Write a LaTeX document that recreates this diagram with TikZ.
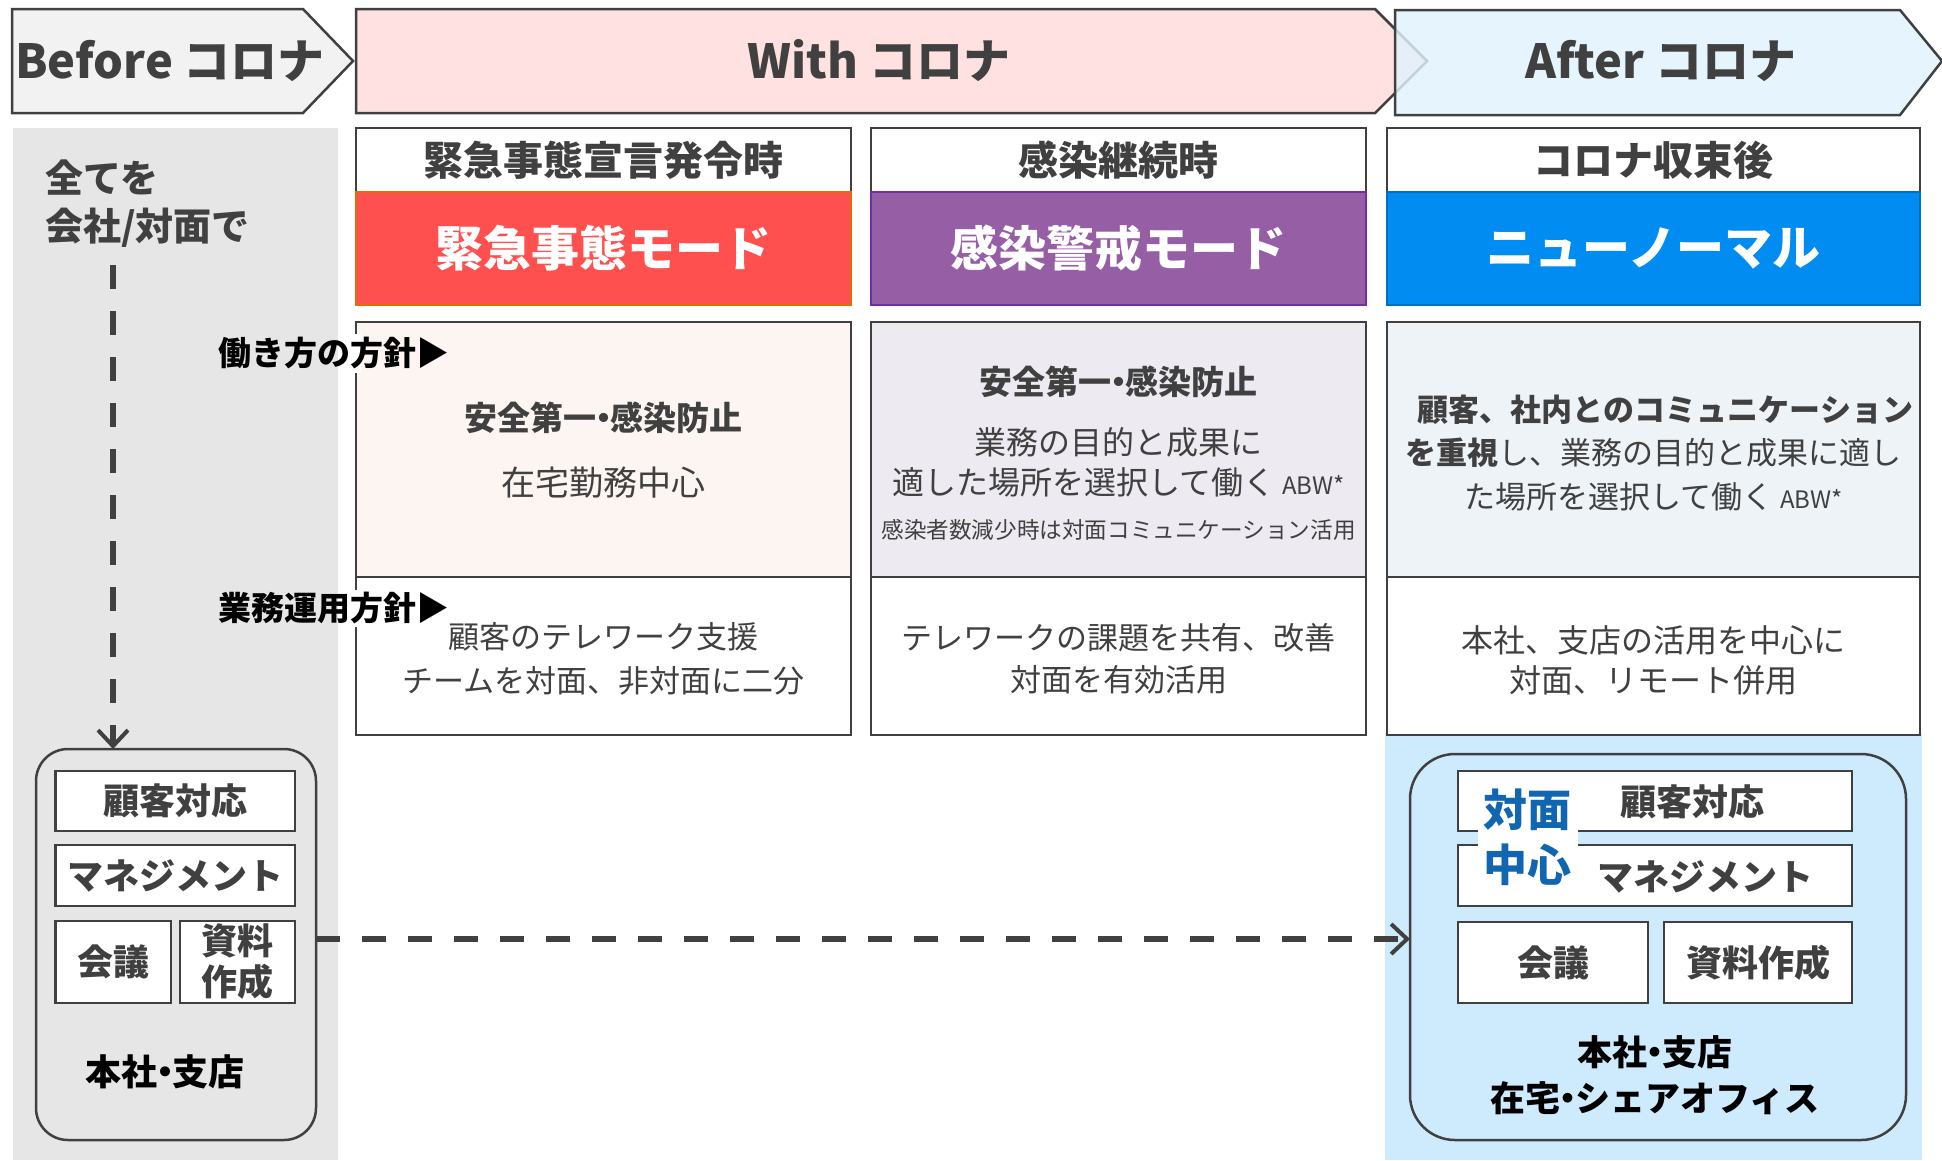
\documentclass[tikz,border=0pt]{standalone}
\usepackage{fontspec}
\setmainfont{Noto Sans CJK JP}
\usetikzlibrary{arrows.meta}
\definecolor{dk}{HTML}{404040}
\definecolor{befc}{HTML}{F2F2F2}
\definecolor{withc}{HTML}{FFE1E1}
\definecolor{aftc}{HTML}{E1F3FD}
\definecolor{panelg}{HTML}{E6E6E6}
\definecolor{panelb}{HTML}{CDEBFC}
\definecolor{redm}{HTML}{FF5050}
\definecolor{redb}{HTML}{E36C0A}
\definecolor{purm}{HTML}{955EA5}
\definecolor{purb}{HTML}{7030A0}
\definecolor{blum}{HTML}{008CF0}
\definecolor{blub}{HTML}{0070C0}
\definecolor{pA}{HTML}{FDF5F1}
\definecolor{pB}{HTML}{EDEAF1}
\definecolor{pC}{HTML}{EEF3F8}
\definecolor{bluet}{HTML}{1066B0}
\newcommand{\fsz}[2]{\fontsize{#1}{#2}\selectfont}
\newcommand{\smabw}{{\fontsize{24}{40}\selectfont ABW*}}
\newcommand{\ndot}{\hspace{-0.28em}・\hspace{-0.28em}}
\begin{document}
\begin{tikzpicture}[x=1pt,y=-1pt,
  frame/.style={draw=dk,line width=2.5pt,inner sep=0pt,outer sep=0pt},
  hdr/.style={frame,fill=white,text=dk,font=\bfseries\fsz{40}{40}},
  modebox/.style={line width=2pt,inner sep=0pt,outer sep=0pt,text=white,font=\bfseries\fsz{48}{48}},
  txt/.style={text=dk,inner sep=0pt,align=center},
  banner/.style={text=dk,font=\bfseries\fsz{47}{47},inner sep=0pt},
  task/.style={frame,fill=white,text=dk,font=\bfseries\fsz{36}{41},align=center},
  glowlbl/.style={inner sep=0pt,text=black,font=\bfseries\fsz{33}{33}},
  halo/.style={fill=white},
  dashln/.style={draw=dk,line width=6pt,dash pattern=on 24pt off 22pt},
  barb/.style={-{Straight Barb[length=16pt,width=30pt,line width=4pt]}}
]
\useasboundingbox (0,0) rectangle (1942,1160);
% background panels
\fill[panelg] (13,128) rectangle (338,1160);
\fill[panelb] (1385,733) rectangle (1922,1160);
% top banners
\draw[frame,fill=befc] (12,9) -- (303,9) -- (353,61) -- (303,113) -- (12,113) -- cycle;
\node[banner] (tBefore) at (170,61) {Before コロナ};
\draw[frame,fill=withc] (356,9) -- (1375,9) -- (1427,61) -- (1375,113) -- (356,113) -- cycle;
\node[banner] (tWith) at (879,61) {With コロナ};
\draw[frame,fill=aftc,fill opacity=0.82] (1395,10) -- (1900,10) -- (1942,61) -- (1900,115) -- (1395,115) -- cycle;
\node[banner] (tAfter) at (1661,61) {After コロナ};
% column headers
\node[hdr,minimum width=495pt,minimum height=64pt] (h1) at (603.5,160) {緊急事態宣言発令時};
\node[hdr,minimum width=495pt,minimum height=64pt] (h2) at (1118.5,160) {感染継続時};
\node[hdr,minimum width=533pt,minimum height=64pt] (h3) at (1653.5,160) {コロナ収束後};
% mode boxes
\node[modebox,fill=redm,draw=redb,minimum width=495pt,minimum height=113pt] (m1) at (603.5,248.5) {緊急事態モード};
\node[modebox,fill=purm,draw=purb,minimum width=495pt,minimum height=113pt] (m2) at (1118.5,248.5) {感染警戒モード};
\node[modebox,fill=blum,draw=blub,minimum width=533pt,minimum height=113pt] (m3) at (1653.5,248.5) {ニューノーマル};
% policy boxes
\node[frame,fill=pA,minimum width=495pt,minimum height=255pt] (p1) at (603.5,449.5) {};
\node[frame,fill=pB,minimum width=495pt,minimum height=255pt] (p2) at (1118.5,449.5) {};
\node[frame,fill=pC,minimum width=533pt,minimum height=255pt] (p3) at (1653.5,449.5) {};
\node[frame,fill=white,minimum width=495pt,minimum height=158pt] (o1) at (603.5,656) {};
\node[frame,fill=white,minimum width=495pt,minimum height=158pt] (o2) at (1118.5,656) {};
\node[frame,fill=white,minimum width=533pt,minimum height=158pt] (o3) at (1653.5,656) {};
% policy texts
\node[txt,font=\bfseries\fsz{33}{33}] (p1a) at (603.5,418) {安全第一\ndot 感染防止};
\node[txt,font=\fsz{34}{34}] (p1b) at (603.5,483) {在宅勤務中心};
\node[txt,font=\fsz{31}{44}] (o1a) at (603.5,659) {顧客のテレワーク支援\\チームを対面、非対面に二分};
\node[txt,font=\bfseries\fsz{33}{33}] (p2a) at (1118.5,382) {安全第一\ndot 感染防止};
\node[txt,font=\fsz{32}{40}] (p2b) at (1118.5,462) {業務の目的と成果に\\適した場所を選択して働く \smabw};
\node[txt,font=\fsz{22.6}{22.6}] (p2c) at (1118.5,530) {感染者数減少時は対面コミュニケーション活用};
\node[txt,font=\fsz{31}{42}] (o2a) at (1118.5,659) {テレワークの課題を共有、改善\\対面を有効活用};
\node[txt,font=\fsz{31}{43.5}] (p3a) at (1653.5,453) {\hspace*{24pt}\textbf{顧客、社内とのコミュニケーション}\\\textbf{を重視}し、業務の目的と成果に適し\\た場所を選択して働く \smabw};
\node[txt,font=\fsz{32}{40}] (o3a) at (1653.5,660) {本社、支店の活用を中心に\\対面、リモート併用};
% row labels (white halo breaks the border behind them)
\fill[halo] (351,334) rectangle (361,373);
\fill[halo] (351,590) rectangle (361,627);
\node[glowlbl,anchor=east] (lbl1) at (450,353) {働き方の方針▶};
\node[glowlbl,anchor=east] (lbl2) at (450,608) {業務運用方針▶};
% left panel
\node[txt,align=left,anchor=west,font=\bfseries\fsz{38}{48}] (allf) at (45,204) {全てを\\会社/対面で};
\node[frame,fill=none,rounded corners=32pt,minimum width=280pt,minimum height=391pt] (lb) at (176,944.5) {};
\node[task,minimum width=239.5pt,minimum height=60pt] (lt1) at (175.25,801) {顧客対応};
\node[task,minimum width=239.5pt,minimum height=61pt] (lt2) at (175.25,875.5) {マネジメント};
\node[task,minimum width=115.5pt,minimum height=82pt] (lt3) at (113.25,962) {会議};
\node[task,minimum width=115pt,minimum height=82pt] (lt4) at (237.5,962) {資料\\作成};
\node[glowlbl,font=\bfseries\fsz{36}{36}] (lloc) at (165,1072) {本社\ndot 支店};
% right panel
\node[frame,fill=none,rounded corners=45pt,minimum width=496pt,minimum height=386pt] (rb) at (1658,947) {};
\node[task,minimum width=394pt,minimum height=60pt] (rt1) at (1655,801) {};
\node[task,minimum width=394pt,minimum height=61pt] (rt2) at (1655,875.5) {};
\node[task,minimum width=190pt,minimum height=81pt] (rt3) at (1553,962.5) {会議};
\node[task,minimum width=188pt,minimum height=81pt] (rt4) at (1758,962.5) {資料作成};
\node[txt,font=\bfseries\fsz{36}{36}] (rt1t) at (1692,802) {顧客対応};
\node[txt,font=\bfseries\fsz{36}{36}] (rt2t) at (1705,877) {マネジメント};
\fill[halo] (1478,827) rectangle (1578,849);
\node[inner sep=0pt,text=bluet,font=\bfseries\fsz{44}{44}] (face1) at (1527,810) {対面};
\node[inner sep=0pt,text=bluet,font=\bfseries\fsz{44}{44}] (face2) at (1527,865) {中心};
\node[glowlbl,font=\bfseries\fsz{35}{46},align=center] (rloc) at (1655,1075) {本社\ndot 支店\\在宅\ndot シェアオフィス};
% connectors
\coordinate (vs) at (113,265);
\coordinate (hm) at (0,939);
\draw[dashln,barb] (vs) -- (vs |- lb.north);
\draw[dashln,barb] (lb.east |- hm) -- (rb.west |- hm);
\end{tikzpicture}
\end{document}
